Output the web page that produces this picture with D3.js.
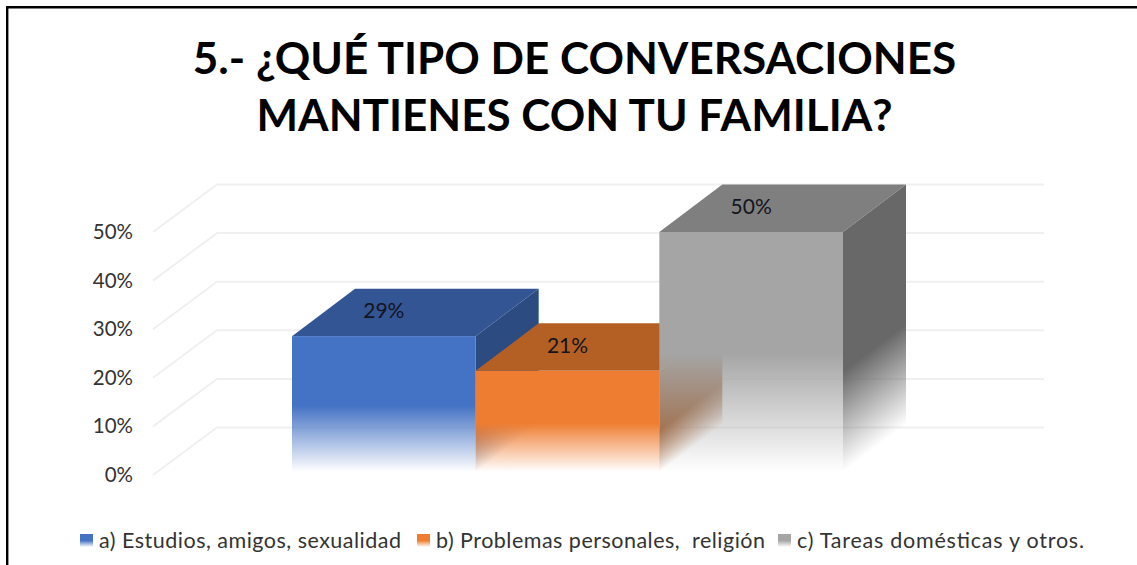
<!DOCTYPE html>
<html lang="es">
<head>
<meta charset="UTF-8">
<title>Conversaciones con la familia</title>
<script src="https://d3js.org/d3.v7.min.js"></script>
<style>
	body { margin: 0; background: #fff; }
	svg { display: block; }
	text { font-family: Lato, sans-serif; white-space: pre; }
</style>
</head>
<body>
<svg id="chart" width="1137" height="565"></svg>
<script>
	const titleLines = ["5.- ¿QUÉ TIPO DE CONVERSACIONES", "MANTIENES CON TU FAMILIA?"];
	const categories = ["a) Estudios, amigos, sexualidad", "b) Problemas personales,  religión", "c) Tareas domésticas y otros."];
	const values = [0.2857, 0.2143, 0.5];
	const tickValues = [0, 0.1, 0.2, 0.3, 0.4, 0.5];
	const frontColors = ["#4472c4", "#ef7d31", "#a5a5a5"];
	const topColors = ["#335593", "#b46025", "#7f7f7f"];
	const sideColors = ["#2c4b80", "#a05a28", "#686868"];
	const legendX = [80, 417, 778];
	const legendWidths = [302, 329, 287];

	const svg = d3.select("#chart");
	const defs = svg.append("defs");

	const depthX = 63, depthY = -47.5;
	const x = d3.scaleBand().domain(categories).range([292, 843]);
	const y = d3.scaleLinear().domain([0, 0.5]).range([475, 232]);
	const pct = d3.format(".0%");

	// frame: only top and left are inside the picture
	svg.append("path")
		.attr("d", "M7.2,565V7.2H1137")
		.attr("fill", "none")
		.attr("stroke", "#000")
		.attr("stroke-width", 2.4);

	// title
	svg.selectAll(".title")
		.data(titleLines)
		.enter().append("text")
		.attr("class", "title")
		.attr("x", 574.5)
		.attr("y", (d, i) => 74 + i * 57)
		.attr("text-anchor", "middle")
		.attr("font-weight", 700)
		.attr("font-size", 44)
		.attr("fill", "#000")
		.text(d => d);

	// gridlines on floor side and back wall
	svg.selectAll(".grid")
		.data(tickValues)
		.enter().append("path")
		.attr("class", "grid")
		.attr("fill", "none")
		.attr("stroke", "#f0f0f0")
		.attr("stroke-width", 2)
		.attr("d", d => d3.line()([[153, y(d)], [153 + 64, y(d) + depthY], [1044, y(d) + depthY]]));

	// y axis, labels only
	const axis = svg.append("g")
		.attr("transform", "translate(153,0)")
		.call(d3.axisLeft(y).tickValues(tickValues).tickFormat(pct).tickSize(0).tickPadding(20));
	axis.select(".domain").remove();
	axis.selectAll("text")
		.attr("font-family", "Lato, sans-serif")
		.attr("font-size", 20.5)
		.attr("fill", "#333");

	// fades out over the lower half of the bar, like the original gradient fill
	function addFade(id, color, x1, y1, x2, y2, startAt) {
		const g = defs.append("linearGradient")
			.attr("id", id)
			.attr("gradientUnits", "userSpaceOnUse")
			.attr("x1", x1).attr("y1", y1).attr("x2", x2).attr("y2", y2);
		g.append("stop").attr("offset", startAt).attr("stop-color", color).attr("stop-opacity", 1);
		g.append("stop").attr("offset", 1).attr("stop-color", color).attr("stop-opacity", 0);
	}

	// bars go left to right so each one covers the side of the previous one
	const bars = svg.selectAll(".bar")
		.data(categories)
		.enter().append("g")
		.attr("class", "bar");

	bars.each(function(cat, i) {
		const g = d3.select(this);
		const x0 = x(cat), x1 = x0 + x.bandwidth();
		const yTop = y(values[i]), yBase = y(0), yMid = (yTop + yBase) / 2;
		const yEnd = yBase - 3;

		addFade("front" + i, frontColors[i], x0, yMid, x0, yEnd, 0);

		// side fade runs along the skewed face
		const len = Math.hypot(depthX, depthY);
		const nx = -depthY / len, ny = depthX / len;
		const proj = (yEnd - yMid) * ny;
		addFade("side" + i, sideColors[i], x1, yMid, x1 + nx * proj, yMid + ny * proj, 0.15);

		g.append("path")
			.attr("fill", topColors[i])
			.attr("d", d3.line()([[x0, yTop], [x0 + depthX, yTop + depthY], [x1 + depthX, yTop + depthY], [x1, yTop]]) + "Z");
		g.append("path")
			.attr("fill", "url(#side" + i + ")")
			.attr("d", d3.line()([[x1, yTop], [x1 + depthX, yTop + depthY], [x1 + depthX, yBase + depthY], [x1, yBase]]) + "Z");
		g.append("rect")
			.attr("x", x0)
			.attr("y", yTop)
			.attr("width", x.bandwidth())
			.attr("height", yBase - yTop)
			.attr("fill", "url(#front" + i + ")");
	});

	// data labels sit on the top face
	svg.selectAll(".value")
		.data(categories)
		.enter().append("text")
		.attr("class", "value")
		.attr("x", d => x(d) + x.bandwidth() / 2)
		.attr("y", (d, i) => y(values[i]) + depthY / 2 + 5.5)
		.attr("text-anchor", "middle")
		.attr("font-size", 21)
		.attr("fill", "#14141e")
		.text((d, i) => pct(values[i]));

	// legend
	const legend = svg.selectAll(".legend")
		.data(categories)
		.enter().append("g")
		.attr("class", "legend")
		.attr("transform", (d, i) => "translate(" + legendX[i] + ",534)");

	legend.each(function(d, i) {
		const id = "swatch" + i;
		const g = defs.append("linearGradient").attr("id", id).attr("x1", 0).attr("y1", 0).attr("x2", 0).attr("y2", 1);
		g.append("stop").attr("offset", 0.5).attr("stop-color", frontColors[i]).attr("stop-opacity", 1);
		g.append("stop").attr("offset", 1).attr("stop-color", frontColors[i]).attr("stop-opacity", 0);
	});
	legend.append("rect")
		.attr("width", 13)
		.attr("height", 13)
		.attr("fill", (d, i) => "url(#swatch" + i + ")");
	legend.append("text")
		.attr("x", 19)
		.attr("y", 14)
		.attr("font-size", 21.5)
		.attr("fill", "#333")
		.attr("textLength", (d, i) => legendWidths[i])
		.attr("lengthAdjust", "spacing")
		.text(d => d);
</script>
</body>
</html>
